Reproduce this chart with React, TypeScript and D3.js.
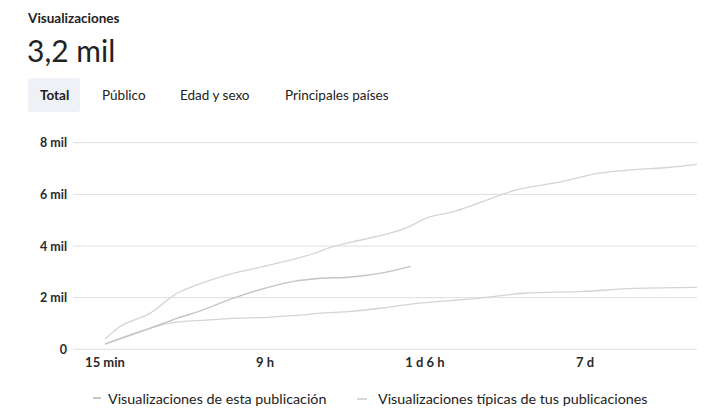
import React from "react";
import * as d3 from "d3";

const xTickLabels = ["15 min", "9 h", "1 d 6 h", "7 d"];
const yTicks = [0, 2000, 4000, 6000, 8000];

// x in tick-index units (0 = "15 min", 1 = "9 h", 2 = "1 d 6 h", 3 = "7 d")
const thisPostX = [0, 0.28, 0.45, 0.6, 0.8, 1.02, 1.18, 1.33, 1.54, 1.75, 1.91];
const thisPostY = [200, 810, 1200, 1500, 1970, 2400, 2630, 2740, 2800, 2980, 3210];

const typicalHighX = [0, 0.09, 0.28, 0.45, 0.6, 0.8, 1.02, 1.3, 1.41, 1.54, 1.89, 2.02, 2.16, 2.33, 2.56, 2.83, 3.08, 3.31, 3.52, 3.7];
const typicalHighY = [400, 860, 1390, 2170, 2550, 2940, 3250, 3700, 3950, 4150, 4720, 5110, 5300, 5650, 6150, 6460, 6810, 6960, 7040, 7160];

const typicalLowX = [0, 0.28, 0.43, 0.6, 0.8, 1.02, 1.22, 1.33, 1.54, 1.72, 1.95, 2.33, 2.62, 2.99, 3.31, 3.7];
const typicalLowY = [200, 810, 1040, 1120, 1200, 1240, 1320, 1390, 1470, 1590, 1780, 1970, 2170, 2240, 2360, 2400];

const legendLabels = ["Visualizaciones de esta publicación", "Visualizaciones típicas de tus publicaciones"];
const tabs = ["Total", "Público", "Edad y sexo", "Principales países"];

const FONT = "Lato, 'Open Sans', sans-serif";

export default function App() {
  const W = 704, H = 413;
  const x = d3.scaleLinear().domain([0, 3.7]).range([105, 697]);
  const y = d3.scaleLinear().domain([0, 8000]).range([349.3, 142.7]);
  const line = d3.line<[number, number]>().x(d => x(d[0])).y(d => y(d[1])).curve(d3.curveMonotoneX);
  const mk = (xs: number[], ys: number[]) => xs.map((v, i) => [v, ys[i]] as [number, number]);
  const yFmt = (v: number) => (v === 0 ? "0" : `${v / 1000} mil`);
  const tabX = [40, 102, 180, 285];
  return (
    <svg width={W} height={H} style={{ position: "absolute", left: 0, top: 0, background: "#fff" }} fontFamily={FONT}>
      <text x={28} y={23} fontSize={13.5} fontWeight={700} fill="#222">Visualizaciones</text>
      <text x={27} y={62} fontSize={30} fill="#222">3,2 mil</text>
      <rect x={28} y={78} width={52} height={34} rx={3} fill="#eef1f5" />
      {tabs.map((t, i) => (
        <text key={t} x={tabX[i]} y={100} fontSize={13.5} fontWeight={i === 0 ? 700 : 400} fill="#222">{t}</text>
      ))}
      {yTicks.map(v => (
        <g key={v}>
          <line x1={73} x2={697} y1={y(v)} y2={y(v)} stroke="#dedede" strokeWidth={1} />
          <text x={67} y={y(v) + 4.5} fontSize={12.5} fontWeight={700} textAnchor="end" fill="#2a2a2a">{yFmt(v)}</text>
        </g>
      ))}
      {xTickLabels.map((t, i) => (
        <text key={t} x={x(i)} y={367} fontSize={13} fontWeight={700} textAnchor="middle" fill="#2a2a2a">{t}</text>
      ))}
      <path d={line(mk(typicalHighX, typicalHighY)) || ""} fill="none" stroke="#d4d4d4" strokeWidth={1.3} />
      <path d={line(mk(typicalLowX, typicalLowY)) || ""} fill="none" stroke="#d4d4d4" strokeWidth={1.3} />
      <path d={line(mk(thisPostX, thisPostY)) || ""} fill="none" stroke="#c4c4c4" strokeWidth={1.4} />
      <line x1={93} x2={101} y1={398} y2={398} stroke="#c8c8c8" strokeWidth={2} />
      <text x={108} y={404} fontSize={14.3} fill="#222">{legendLabels[0]}</text>
      <line x1={357} x2={367} y1={399} y2={399} stroke="#d8d8d8" strokeWidth={2} />
      <text x={378} y={404} fontSize={14.3} fill="#222">{legendLabels[1]}</text>
    </svg>
  );
}
